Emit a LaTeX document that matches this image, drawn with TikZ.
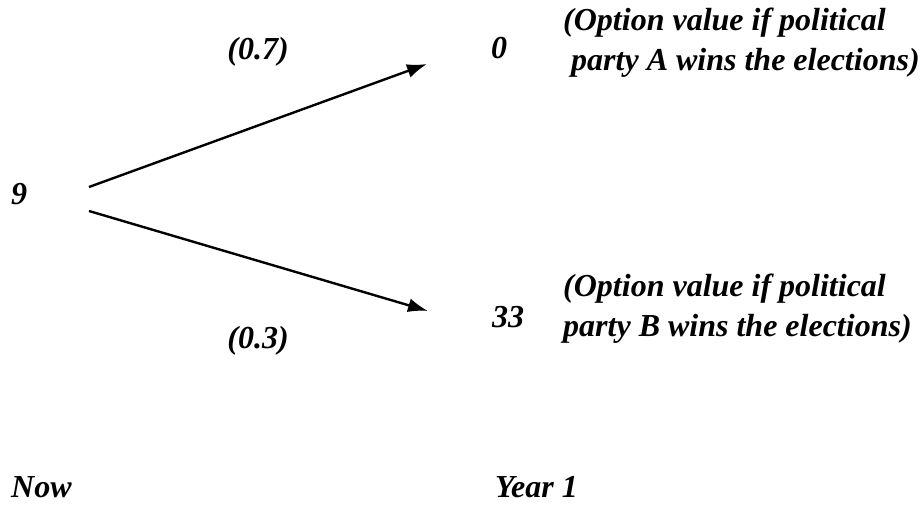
\documentclass[tikz,border=0pt]{standalone}
\usepackage{fontspec}
\setmainfont{Liberation Serif}
\usetikzlibrary{arrows.meta}
\begin{document}
\begin{tikzpicture}[x=1pt,y=1pt,
  lab/.style={inner sep=0pt, font=\fontsize{32}{40}\selectfont\bfseries\itshape},
  note/.style={lab, align=left, anchor=west},
  arr/.style={line width=2.4pt, -{Latex[length=20pt,width=14pt]}}]
\useasboundingbox (0,0) rectangle (924,504);
\node[lab] (now) at (19,310) {9};
\node[lab] (p7) at (258,452) {(0.7)};
\node[lab] (p3) at (258,163) {(0.3)};
\node[lab] (v0) at (499,456) {0};
\node[lab] (v33) at (508,187) {33};
\node[note] (ta) at (563,461) {(Option value if political\\\ party A wins the elections)};
\node[note] (tb) at (563,195) {(Option value if political\\party B wins the elections)};
\node[lab, anchor=west] (tnow) at (11,17) {Now};
\node[lab, anchor=west] (tyear) at (495,17) {Year 1};
\coordinate (s1) at (89,317);
\coordinate (s2) at (89,293);
\coordinate (e1) at (427,440);
\coordinate (e2) at (428,193);
\draw[arr] (s1) -- (e1);
\draw[arr] (s2) -- (e2);
\end{tikzpicture}
\end{document}
